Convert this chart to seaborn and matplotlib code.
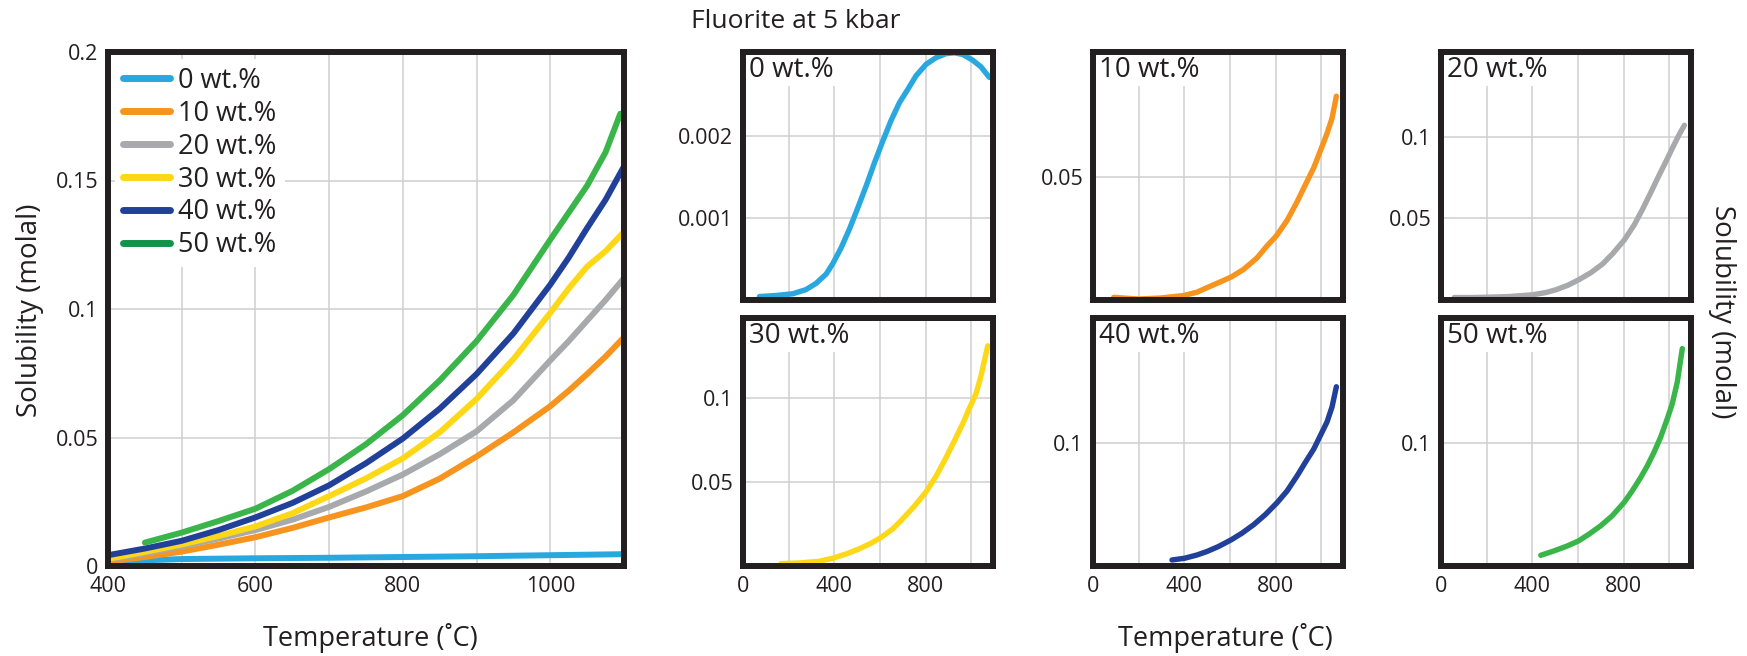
import numpy as np
import pandas as pd
import matplotlib
matplotlib.use("Agg")
import matplotlib.pyplot as plt
from matplotlib.ticker import FixedLocator, FixedFormatter, NullFormatter
import seaborn as sns

# ---------------- data ----------------
series_names = ["0 wt.%", "10 wt.%", "20 wt.%", "30 wt.%", "40 wt.%", "50 wt.%"]
series_colors = ["#29a8e0", "#f7941d", "#a7a9ac", "#fdd817", "#21409a", "#39b54a"]
legend_colors = ["#29a8e0", "#f7941d", "#a7a9ac", "#fdd817", "#21409a", "#0f9448"]

# main panel (400-1100 C)
main_T_0 = [400, 450, 500, 600, 700, 800, 900, 1000, 1100]
main_S_0 = [0.0014, 0.0022, 0.0027, 0.0030, 0.0032, 0.0035, 0.0038, 0.0042, 0.0046]
main_T = [400, 450, 500, 550, 600, 650, 700, 750, 800, 850, 900, 950, 1000, 1025, 1050, 1075, 1100]
main_S_10 = [0.0017, 0.0035, 0.0056, 0.0083, 0.0112, 0.0148, 0.0189, 0.0228, 0.0272, 0.0340, 0.0426, 0.0520, 0.0622, 0.0682, 0.0747, 0.0815, 0.0890]
main_S_20 = [0.0024, 0.0049, 0.0077, 0.0107, 0.0140, 0.0180, 0.0230, 0.0290, 0.0356, 0.0435, 0.0524, 0.0645, 0.0800, 0.0875, 0.0955, 0.1035, 0.1120]
main_S_30 = [0.0028, 0.0055, 0.0084, 0.0117, 0.0154, 0.0205, 0.0272, 0.0341, 0.0419, 0.0520, 0.0650, 0.0805, 0.0985, 0.1080, 0.1165, 0.1225, 0.1300]
main_S_40 = [0.0042, 0.0068, 0.0098, 0.0140, 0.0189, 0.0245, 0.0314, 0.0400, 0.0496, 0.0612, 0.0747, 0.0905, 0.1095, 0.1200, 0.1315, 0.1425, 0.1555]
main_T_50 = [450, 500, 550, 600, 650, 700, 750, 800, 850, 900, 950, 1000, 1025, 1050, 1075, 1095]
main_S_50 = [0.0091, 0.0130, 0.0175, 0.0223, 0.0292, 0.0377, 0.0474, 0.0587, 0.0722, 0.0875, 0.1055, 0.1270, 0.1375, 0.1480, 0.1610, 0.1760]

# small panels (0-1100 C)
p0_T = [72, 145, 218, 276, 320, 364, 393, 429, 466, 502, 539, 575, 612, 648, 685, 721, 758, 802, 845, 889, 926, 962, 1006, 1042, 1079]
p0_S = [0.000042, 0.000055, 0.000076, 0.000127, 0.000203, 0.000316, 0.000443, 0.000633, 0.000865, 0.00112, 0.00139,
        0.00167, 0.00194, 0.00219, 0.00241, 0.00257, 0.00274, 0.00288, 0.00296, 0.00301, 0.00302, 0.00300, 0.00293,
        0.00285, 0.00272]
p10_T = [91, 149, 200, 295, 397, 456, 499, 558, 606, 660, 718, 762, 803, 850, 894, 930, 967, 996, 1025, 1047, 1066]
p10_S = [0.0011, 0.0007, 0.0004, 0.0008, 0.0018, 0.0032, 0.0050, 0.0074, 0.0094, 0.0125, 0.0171, 0.0220, 0.0261,
         0.0324, 0.0400, 0.0469, 0.0539, 0.0608, 0.0678, 0.0740, 0.0830]
p20_T = [58, 139, 200, 299, 402, 460, 504, 555, 606, 657, 708, 752, 803, 847, 883, 920, 956, 986, 1015, 1041, 1066]
p20_S = [0.0015, 0.0015, 0.0017, 0.0021, 0.0032, 0.0046, 0.0063, 0.0090, 0.0126, 0.0168, 0.0221, 0.0284, 0.0368,
         0.0462, 0.0557, 0.0662, 0.0767, 0.0851, 0.0935, 0.1008, 0.1071]
p30_T = [166, 247, 334, 400, 458, 510, 561, 604, 656, 699, 750, 802, 845, 889, 926, 962, 991, 1021, 1042, 1072]
p30_S = [0.0014, 0.0018, 0.0028, 0.0049, 0.0075, 0.0103, 0.0136, 0.0170, 0.0221, 0.0281, 0.0356, 0.0443, 0.0534,
         0.0646, 0.0747, 0.0848, 0.0939, 0.1030, 0.1132, 0.1314]
p40_T = [346, 401, 456, 499, 550, 606, 653, 704, 755, 806, 850, 894, 930, 967, 996, 1025, 1047, 1066]
p40_S = [0.0049, 0.0063, 0.0090, 0.0118, 0.0159, 0.0214, 0.0268, 0.0337, 0.0419, 0.0515, 0.0611, 0.0734, 0.0844,
         0.0953, 0.1063, 0.1173, 0.1296, 0.1460]
p50_T = [437, 495, 553, 602, 648, 699, 750, 802, 838, 875, 904, 933, 962, 991, 1013, 1035, 1057]
p50_S = [0.0087, 0.0123, 0.0163, 0.0204, 0.0259, 0.0327, 0.0409, 0.0518, 0.0613, 0.0722, 0.0817, 0.0926, 0.1049,
         0.1199, 0.1322, 0.1499, 0.1771]

small_ylims = [(0, 0.00303), (0, 0.101), (0, 0.152), (0, 0.148), (0, 0.202), (0, 0.202)]
small_yticks = [[0.001, 0.002], [0.05], [0.05, 0.1], [0.05, 0.1], [0.1], [0.1]]
small_yticklabels = [["0.001", "0.002"], ["0.05"], ["0.05", "0.1"], ["0.05", "0.1"], ["0.1"], ["0.1"]]

main_yticks = [0, 0.05, 0.1, 0.15, 0.2]
main_yticklabels = ["0", "0.05", "0.1", "0.15", "0.2"]
main_xticks = [400, 600, 800, 1000]
small_xticks = [0, 400, 800]

title_text = "Fluorite at 5 kbar"
xlabel_text = "Temperature (˚C)"
ylabel_text = "Solubility (molal)"

# ---------------- style ----------------
sns.set_theme(style="white")
plt.rcParams["font.family"] = ["Open Sans", "DejaVu Sans"]
INK = "#231f20"
GRID = "#d0d0d2"

W, H = 1747, 656
fig = plt.figure(figsize=(W / 100, H / 100), dpi=100)

def style_axes(ax):
    for s in ax.spines.values():
        s.set_linewidth(4.3)
        s.set_color(INK)
        s.set_zorder(5)
    ax.tick_params(axis="both", length=0, labelsize=15.5, colors=INK, pad=7)
    ax.grid(True, which="both", color=GRID, linewidth=1.1)
    ax.set_axisbelow(True)
    ax.set_xlabel("")
    ax.set_ylabel("")

# ---------------- main panel ----------------
main_df = pd.concat([
    pd.DataFrame({"T": main_T_0, "S": main_S_0, "series": series_names[0]}),
    pd.DataFrame({"T": main_T, "S": main_S_10, "series": series_names[1]}),
    pd.DataFrame({"T": main_T, "S": main_S_20, "series": series_names[2]}),
    pd.DataFrame({"T": main_T, "S": main_S_30, "series": series_names[3]}),
    pd.DataFrame({"T": main_T, "S": main_S_40, "series": series_names[4]}),
    pd.DataFrame({"T": main_T_50, "S": main_S_50, "series": series_names[5]}),
], ignore_index=True)

ax = fig.add_axes([108 / W, 1 - 566 / H, 516 / W, 514 / H])
sns.lineplot(data=main_df, x="T", y="S", hue="series", hue_order=series_names,
             palette=series_colors, linewidth=4.3, estimator=None, sort=True,
             ax=ax, legend=True)
for ln in ax.get_lines():
    ln.set_solid_joinstyle("round")
ax.set_xlim(400, 1100)
ax.set_ylim(0, 0.2)
ax.xaxis.set_major_locator(FixedLocator(main_xticks))
ax.xaxis.set_major_formatter(FixedFormatter([str(t) for t in main_xticks]))
ax.xaxis.set_minor_locator(FixedLocator([500, 700, 900]))
ax.yaxis.set_major_locator(FixedLocator(main_yticks))
ax.yaxis.set_major_formatter(FixedFormatter(main_yticklabels))
style_axes(ax)
handles, labels = ax.get_legend_handles_labels()
leg = ax.legend(handles, labels, loc="upper left", bbox_to_anchor=(0.0, 1.0),
                fontsize=19.5, frameon=True, facecolor="white", edgecolor="none",
                framealpha=1, handlelength=1.75, handletextpad=0.3,
                labelspacing=0.18, borderpad=0.3, borderaxespad=0.25)
for lh, col in zip(leg.get_lines(), legend_colors):
    lh.set_linewidth(5)
    lh.set_color(col)
for t in leg.get_texts():
    t.set_color(INK)

# ---------------- small panels ----------------
small_T = [p0_T, p10_T, p20_T, p30_T, p40_T, p50_T]
small_S = [p0_S, p10_S, p20_S, p30_S, p40_S, p50_S]
lefts = [743, 1093, 1441]
tops = [52, 318]
pw, ph = 250, 248

for i in range(6):
    r, c = divmod(i, 3)
    sax = fig.add_axes([lefts[c] / W, 1 - (tops[r] + ph) / H, pw / W, ph / H])
    df = pd.DataFrame({"T": small_T[i], "S": small_S[i]})
    sns.lineplot(data=df, x="T", y="S", color=series_colors[i], linewidth=3.9,
                 estimator=None, sort=True, ax=sax)
    for ln in sax.get_lines():
        ln.set_solid_joinstyle("round")
    sax.set_xlim(0, 1095)
    sax.set_ylim(*small_ylims[i])
    sax.xaxis.set_major_locator(FixedLocator(small_xticks))
    sax.xaxis.set_minor_locator(FixedLocator([200, 600, 1000]))
    if r == 0:
        sax.xaxis.set_major_formatter(NullFormatter())
    else:
        sax.xaxis.set_major_formatter(FixedFormatter([str(t) for t in small_xticks]))
    sax.yaxis.set_major_locator(FixedLocator(small_yticks[i]))
    sax.yaxis.set_major_formatter(FixedFormatter(small_yticklabels[i]))
    style_axes(sax)
    sax.text(0.025, 0.985, series_names[i], transform=sax.transAxes, ha="left", va="top",
             fontsize=20, color=INK, zorder=4,
             bbox=dict(facecolor="white", edgecolor="none", pad=1.5))

# ---------------- figure labels ----------------
fig.text(796 / W, 1 - 22 / H, title_text, ha="center", va="center", fontsize=19, color=INK)
fig.text(370 / W, 1 - 638 / H, xlabel_text, ha="center", va="center", fontsize=19.5, color=INK)
fig.text(1225 / W, 1 - 638 / H, xlabel_text, ha="center", va="center", fontsize=19.5, color=INK)
fig.text(30 / W, 1 - 310 / H, ylabel_text, ha="center", va="center", rotation=90, fontsize=20, color=INK)
fig.text(1722 / W, 1 - 312 / H, ylabel_text, ha="center", va="center", rotation=270, fontsize=20, color=INK)

fig.savefig("out.png", dpi=100, facecolor="white")
